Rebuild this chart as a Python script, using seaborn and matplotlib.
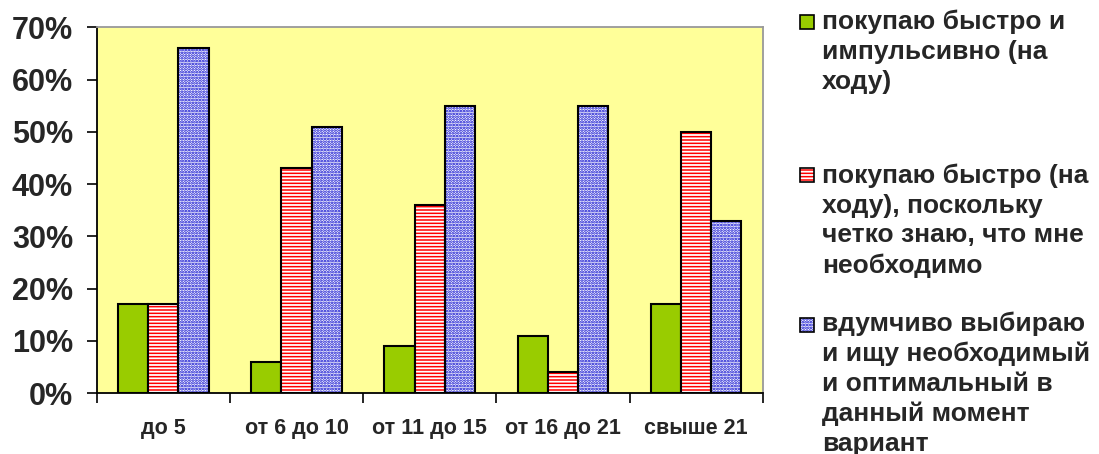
import numpy as np
import pandas as pd
import matplotlib
matplotlib.use("Agg")
import matplotlib.pyplot as plt
from matplotlib.patches import Rectangle
from matplotlib.ticker import PercentFormatter, FixedLocator
import seaborn as sns

# Chart data
groups = ['до 5', 'от 6 до 10', 'от 11 до 15', 'от 16 до 21', 'свыше 21']
series_names = [
    'покупаю быстро и\nимпульсивно (на\nходу)',
    'покупаю быстро (на\nходу), поскольку\nчетко знаю, что мне\nнеобходимо',
    'вдумчиво выбираю\nи ищу необходимый\nи оптимальный в\nданный момент\nвариант',
]
impulsive = [0.17, 0.06, 0.09, 0.11, 0.17]
quick = [0.17, 0.43, 0.36, 0.04, 0.50]
thoughtful = [0.66, 0.51, 0.55, 0.55, 0.33]

colors = ['#99CC00', '#FF0000', '#FFFFFF']
hatches = [None, '-----', '......']
hatch_colors = [None, '#FFFFFF', '#0000CC']

# Build long-form table for seaborn
rows = []
for name, vals in zip(series_names, [impulsive, quick, thoughtful]):
    for g, v in zip(groups, vals):
        rows.append({'group': g, 'series': name, 'value': v})
df = pd.DataFrame(rows)

sns.set_style('white')
plt.rcParams['font.family'] = ['Liberation Sans', 'DejaVu Sans']
plt.rcParams['font.weight'] = 'bold'
plt.rcParams['hatch.linewidth'] = 1.3

fig = plt.figure(figsize=(10.99, 4.54), dpi=100)
ax = fig.add_axes([0.088, 0.134, 0.606, 0.806])
ax.set_facecolor('#FFFF99')

sns.barplot(data=df, x='group', y='value', hue='series', palette=colors,
            order=groups, hue_order=series_names, width=0.68, gap=0, saturation=1,
            edgecolor='black', linewidth=1.5, legend=False, ax=ax)

# patterns: hatch colour follows edge colour, so outline separately
for i, cont in enumerate(ax.containers):
    for bar in cont:
        if hatches[i] is not None:
            bar.set_hatch(hatches[i])
            bar.set_edgecolor(hatch_colors[i])
            bar.set_linewidth(0)
            ax.add_patch(Rectangle(bar.get_xy(), bar.get_width(), bar.get_height(),
                                   fill=False, edgecolor='black', linewidth=1.5, zorder=3))

ax.set_ylim(0, 0.7)
ax.set_xlim(-0.5, len(groups) - 0.5)
ax.yaxis.set_major_formatter(PercentFormatter(1.0, decimals=0))
ax.set_yticks(np.arange(0, 0.71, 0.1))
ax.xaxis.set_minor_locator(FixedLocator(np.arange(-0.5, len(groups), 1.0)))
ax.tick_params(axis='x', which='major', length=0, labelsize=15.5, pad=18)
ax.tick_params(axis='x', which='minor', length=7, width=1.2, color='black', direction='out', bottom=True)
ax.tick_params(axis='y', length=7, width=1.2, color='black', direction='out', left=True,
               labelsize=22, pad=10)
ax.set_xlabel('')
ax.set_ylabel('')

for s in ['left', 'bottom']:
    ax.spines[s].set_color('black')
    ax.spines[s].set_linewidth(1.3)
for s in ['top', 'right']:
    ax.spines[s].set_color('#999999')
    ax.spines[s].set_linewidth(1.3)

# legend drawn by hand so the swatch sits beside the first line
swatch_y = [0.952, 0.615, 0.284]
text_y = [0.978, 0.640, 0.314]
for name, c, h, hc, sy, ty in zip(series_names, colors, hatches, hatch_colors, swatch_y, text_y):
    fig.patches.append(Rectangle((0.728, sy - 0.0155), 0.0127, 0.031, transform=fig.transFigure,
                                 facecolor=c, hatch=h, edgecolor=hc if hc else 'black',
                                 linewidth=0 if hc else 1.2))
    if hc:
        fig.patches.append(Rectangle((0.728, sy - 0.0155), 0.0127, 0.031, transform=fig.transFigure,
                                     fill=False, edgecolor='black', linewidth=1.2))
    fig.text(0.748, ty, name, fontsize=19, fontweight='bold', va='top',
             ha='left', linespacing=1.3, transform=fig.transFigure)

fig.savefig('out.png', dpi=100)
